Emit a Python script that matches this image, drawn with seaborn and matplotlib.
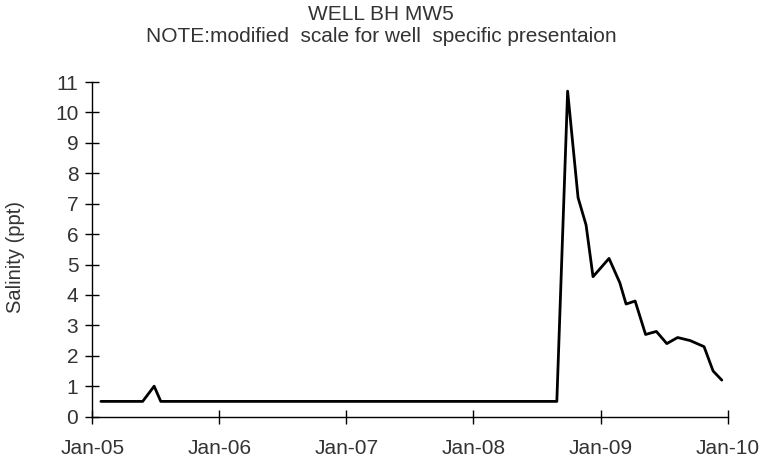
import pandas as pd
import matplotlib
matplotlib.use('Agg')
import matplotlib.pyplot as plt
import matplotlib.dates as mdates
import seaborn as sns

# sampling dates and salinity readings (ppt)
dates = ['2005-01-26', '2005-05-26', '2005-06-28', '2005-07-17', '2008-08-28',
         '2008-09-28', '2008-10-28', '2008-11-20', '2008-12-10', '2009-01-25',
         '2009-02-25', '2009-03-15', '2009-04-10', '2009-05-10', '2009-06-10',
         '2009-07-10', '2009-08-10', '2009-09-15', '2009-10-25', '2009-11-20',
         '2009-12-15']
salinity = [0.5, 0.5, 1.0, 0.5, 0.5,
            10.7, 7.2, 6.3, 4.6, 5.2,
            4.4, 3.7, 3.8, 2.7, 2.8,
            2.4, 2.6, 2.5, 2.3, 1.5,
            1.2]

df = pd.DataFrame({'date': pd.to_datetime(dates), 'salinity': salinity})

sns.set_style('white', {'xtick.bottom': True, 'ytick.left': True})
plt.rcParams['font.family'] = ['Liberation Sans', 'DejaVu Sans']
txt = '#333333'
fs = 15

fig = plt.figure(figsize=(7.62, 4.66), dpi=100)
ax = fig.add_axes([0.121, 0.106, 0.834, 0.718])
sns.lineplot(data=df, x='date', y='salinity', color='black', linewidth=2, ax=ax)

ax.set_xlim(pd.Timestamp('2005-01-01'), pd.Timestamp('2010-01-01'))
ax.set_ylim(0, 11)
ax.set_yticks(range(0, 12))
ax.xaxis.set_major_locator(mdates.YearLocator())
ax.xaxis.set_major_formatter(mdates.DateFormatter('%b-%y'))
ax.tick_params(axis='both', direction='inout', length=10, width=1,
               labelsize=fs, color='black', labelcolor=txt)
ax.tick_params(axis='x', pad=11)
ax.tick_params(axis='y', pad=5)
for s in ['top', 'right']:
    ax.spines[s].set_visible(False)
for s in ['left', 'bottom']:
    ax.spines[s].set_color('black')
    ax.spines[s].set_linewidth(1)
ax.set_xlabel('')
ax.set_ylabel('Salinity (ppt)', fontsize=fs - 0.5, color=txt)
ax.yaxis.set_label_coords(-0.106, 0.476)
fig.suptitle('WELL BH MW5\nNOTE:modified  scale for well  specific presentaion',
             fontsize=fs, y=0.99, linespacing=1.25, color=txt)

plt.savefig('out.png', dpi=100)
